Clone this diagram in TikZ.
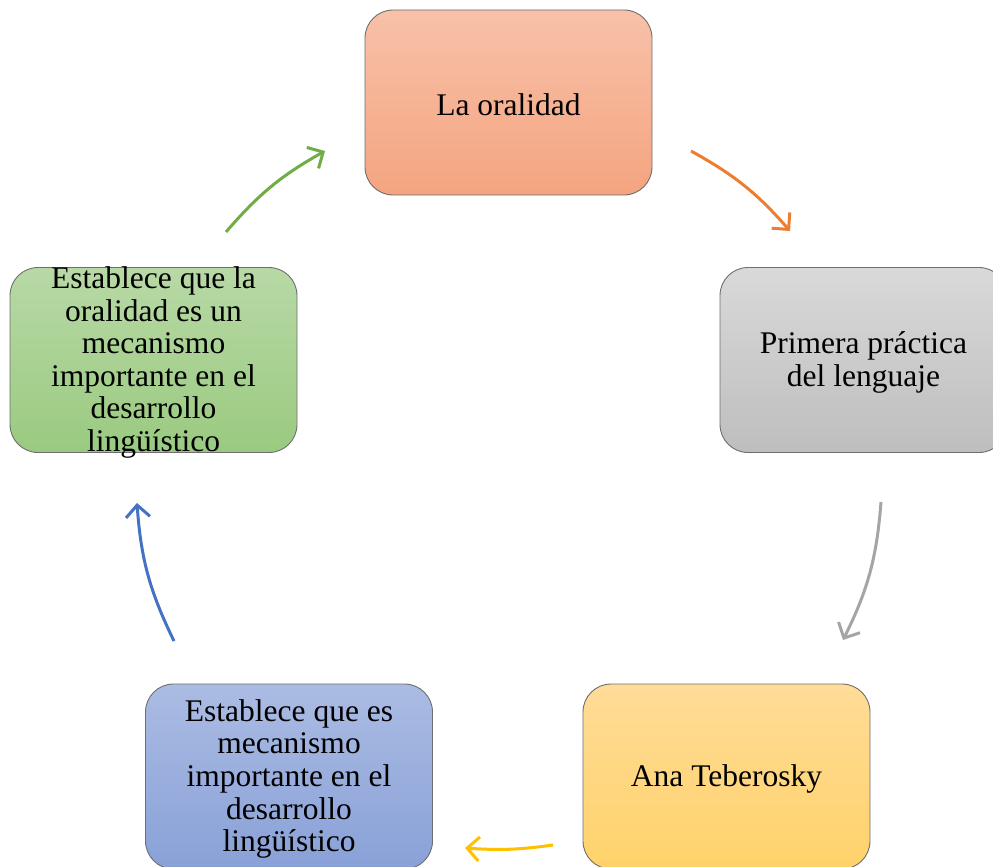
\documentclass[tikz,border=0pt]{standalone}
\usepackage{fontspec}
\setmainfont{Liberation Serif}
\usetikzlibrary{arrows.meta}
\definecolor{bordergray}{HTML}{6E6E6E}
\definecolor{orangeA}{HTML}{F8C1A9}\definecolor{orangeB}{HTML}{F4A47F}
\definecolor{grayA}{HTML}{D9D9D9}\definecolor{grayB}{HTML}{BEBEBE}
\definecolor{yellowA}{HTML}{FFDC98}\definecolor{yellowB}{HTML}{FFD26A}
\definecolor{blueA}{HTML}{ABBCE3}\definecolor{blueB}{HTML}{89A1D8}
\definecolor{greenA}{HTML}{B8D9A6}\definecolor{greenB}{HTML}{9ACA80}
\definecolor{arrOrange}{HTML}{ED7D31}
\definecolor{arrGray}{HTML}{A5A5A5}
\definecolor{arrYellow}{HTML}{FFC000}
\definecolor{arrBlue}{HTML}{4472C4}
\definecolor{arrGreen}{HTML}{70AD47}
\tikzset{
  cyclebox/.style={draw=bordergray, line width=0.9pt, rounded corners=28pt,
    minimum width=287pt, minimum height=185pt, inner sep=0pt},
  boxtext/.style={align=center, inner sep=0pt, yshift=-2.5pt,
    font=\fontsize{31.5}{32.6}\selectfont},
  cyclearrow/.style={line width=3pt, -{Straight Barb[length=12pt,width=24pt]}}
}
\begin{document}
\begin{tikzpicture}[x=1pt,y=1pt]
\clip (0,0) rectangle (993,-867);
% boxes
\node[cyclebox, top color=orangeA, bottom color=orangeB] (top) at (508.5,-102.5) {};
\node[cyclebox, top color=grayA, bottom color=grayB] (right) at (863.5,-360) {};
\node[cyclebox, top color=yellowA, bottom color=yellowB] (br) at (726.5,-776.5) {};
\node[cyclebox, top color=blueA, bottom color=blueB] (bl) at (289,-776.5) {};
\node[cyclebox, top color=greenA, bottom color=greenB] (left) at (153.5,-360) {};
% texts
\node[boxtext] (ttop) at (top.center) {La oralidad};
\node[boxtext] (tright) at (right.center) {Primera práctica\\del lenguaje};
\node[boxtext] (tbr) at (br.center) {Ana Teberosky};
\node[boxtext] (tbl) at (bl.center) {Establece que es\\mecanismo\\importante en el\\desarrollo\\lingüístico};
\node[boxtext] (tleft) at (left.center) {Establece que la\\oralidad es un\\mecanismo\\importante en el\\desarrollo\\lingüístico};
% arrow end points
\coordinate (o1) at (691,-151); \coordinate (o2) at (790,-231);
\coordinate (g1) at (881,-502); \coordinate (g2) at (843,-640);
\coordinate (y1) at (553,-845); \coordinate (y2) at (465,-848);
\coordinate (b1) at (174,-641); \coordinate (b2) at (137,-503);
\coordinate (e1) at (226,-232); \coordinate (e2) at (325,-151);
\draw[cyclearrow, arrOrange] (o1) to[bend left=10] (o2);
\draw[cyclearrow, arrGray] (g1) to[bend left=11] (g2);
\draw[cyclearrow, arrYellow] (y1) to[bend left=6] (y2);
\draw[cyclearrow, arrBlue] (b1) to[bend left=11] (b2);
\draw[cyclearrow, arrGreen] (e1) to[bend left=10] (e2);
\end{tikzpicture}
\end{document}
